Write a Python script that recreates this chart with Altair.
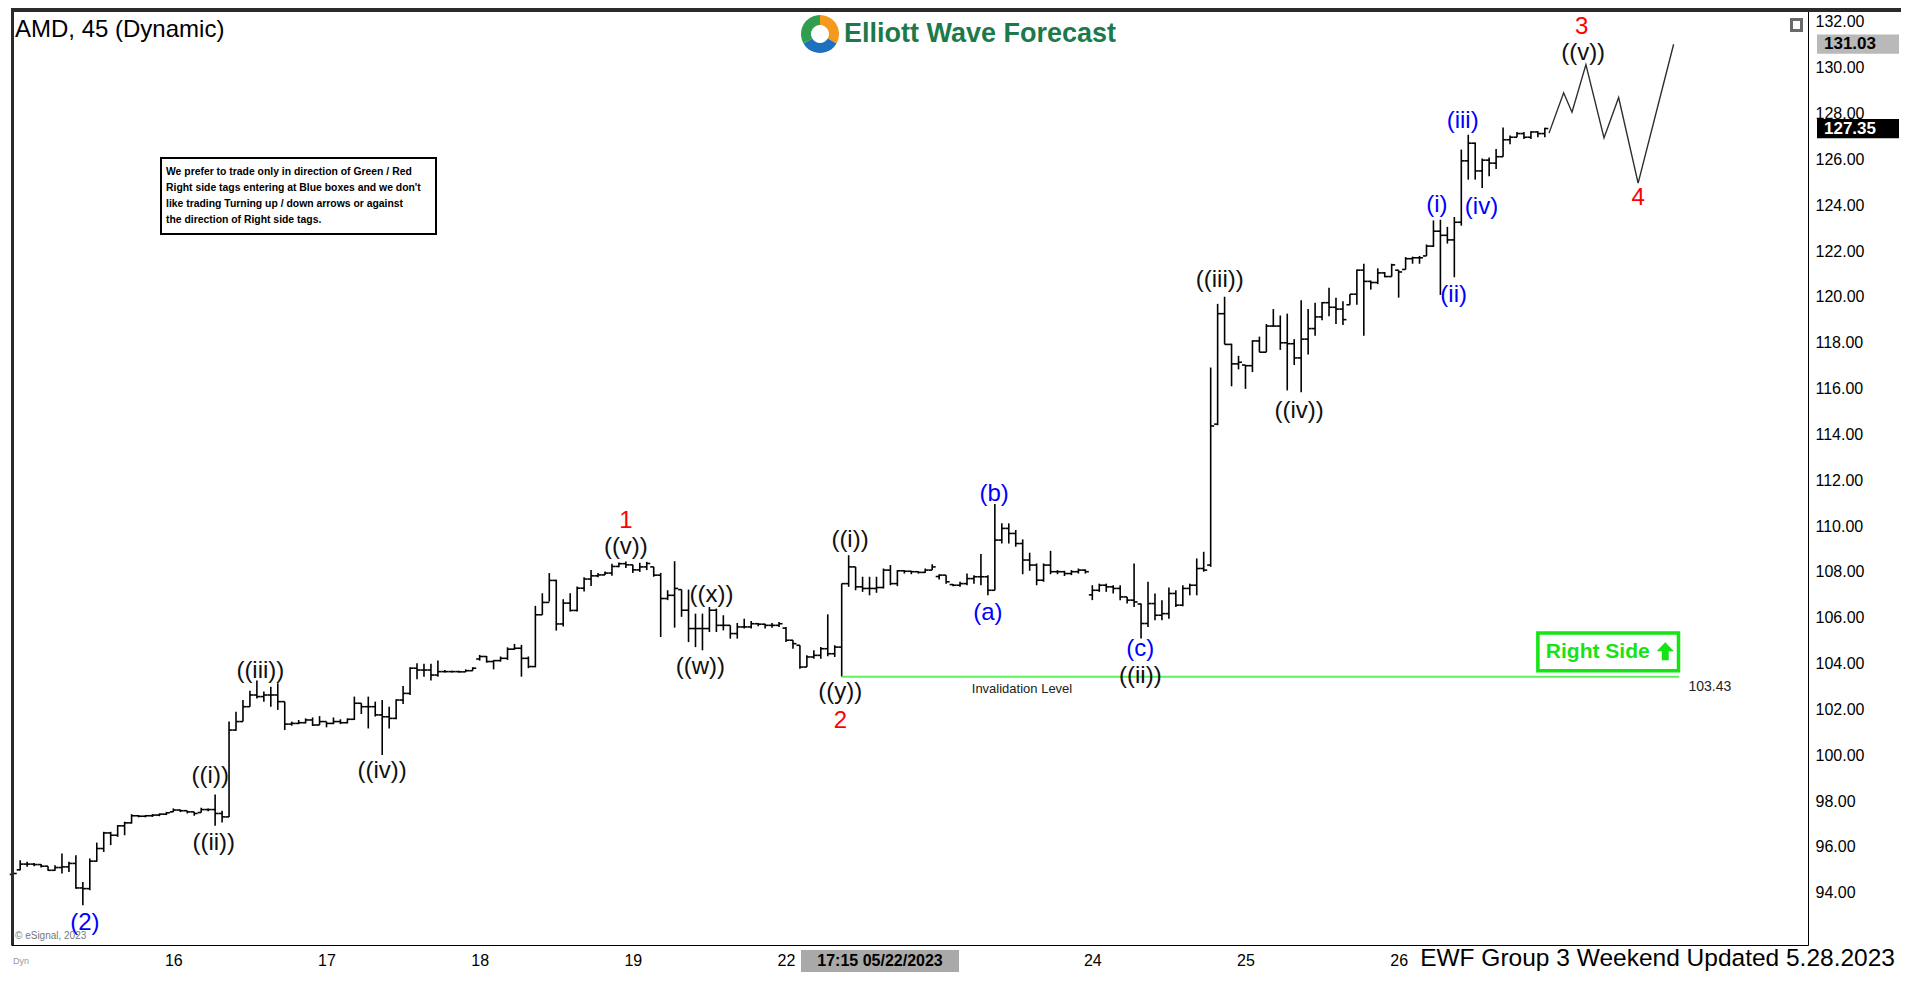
import altair as alt
import pandas as pd

FONT = "Liberation Sans"

# ---------------- OHLC (45 min bars) ----------------
highs = [94.91, 95.42, 95.35, 95.30, 95.25, 95.16, 95.20, 95.71, 95.35, 95.64,
         94.47, 95.49, 96.19, 96.66, 96.66, 96.95, 97.10, 97.43, 97.39, 97.39,
         97.43, 97.46, 97.53, 97.68, 97.63, 97.58, 97.53, 97.71, 97.68, 98.29,
         97.58, 101.47, 101.90, 102.41, 102.82, 103.26, 102.78, 102.99, 103.14, 102.34,
         101.47, 101.54, 101.61, 101.65, 101.71, 101.47, 101.65, 101.57, 101.61, 102.56,
         102.27, 102.56, 102.34, 102.41, 102.12, 102.44, 103.02, 103.84, 104.01, 103.99,
         103.99, 104.13, 103.72, 103.69, 103.69, 103.75, 103.84, 104.38, 104.33, 104.16,
         104.31, 104.71, 104.86, 104.82, 104.31, 106.52, 107.07, 107.95, 107.66, 106.81,
         107.07, 107.36, 107.77, 108.09, 107.95, 108.02, 108.36, 108.41, 108.46, 108.31,
         108.40, 108.44, 108.22, 107.96, 107.20, 108.47, 107.23, 107.23, 106.18, 106.18,
         106.47, 106.40, 106.11, 105.67, 105.77, 105.96, 105.86, 105.77, 105.74, 105.77,
         105.82, 105.60, 105.02, 104.80, 104.36, 104.58, 104.72, 106.15, 104.80, 107.49,
         108.73, 108.22, 107.79, 107.79, 107.79, 108.15, 108.30, 108.08, 108.08, 108.05,
         108.03, 108.15, 108.34, 107.90, 107.86, 107.47, 107.57, 107.93, 107.86, 108.78,
         107.86, 110.97, 110.12, 110.12, 109.83, 109.42, 108.84, 108.37, 108.37, 108.92,
         108.08, 108.05, 108.08, 108.15, 108.11, 107.42, 107.49, 107.49, 107.42, 107.42,
         106.91, 108.37, 106.62, 107.57, 107.06, 106.77, 107.32, 107.20, 107.42, 107.49,
         108.59, 108.88, 116.92, 119.70, 120.01, 117.96, 117.43, 117.03, 118.11, 118.27,
         118.82, 119.47, 119.19, 119.27, 118.16, 119.86, 119.47, 119.75, 119.78, 120.40,
         119.97, 119.81, 120.12, 121.20, 121.45, 120.71, 121.25, 121.09, 121.45, 121.17,
         121.74, 121.76, 121.79, 122.29, 123.34, 123.37, 123.06, 123.49, 126.43, 127.08,
         126.74, 126.04, 126.09, 126.46, 127.39, 127.05, 127.20, 127.20, 127.23, 127.23,
         127.38]

lows = [94.77, 94.98, 95.13, 95.16, 95.10, 94.96, 94.96, 94.84, 94.91, 94.18,
        93.45, 94.11, 95.35, 95.78, 96.08, 96.44, 96.51, 97.02, 97.29, 97.29,
        97.31, 97.34, 97.39, 97.53, 97.52, 97.46, 97.36, 97.50, 97.56, 96.92,
        97.07, 97.31, 101.07, 101.47, 102.12, 102.48, 102.34, 102.12, 101.98, 101.10,
        101.29, 101.36, 101.39, 101.28, 101.32, 101.22, 101.36, 101.36, 101.39, 101.54,
        101.80, 101.17, 101.69, 100.01, 101.17, 101.57, 102.24, 102.63, 103.32, 103.43,
        103.26, 103.43, 103.61, 103.61, 103.61, 103.64, 103.69, 104.13, 104.04, 103.75,
        104.09, 104.16, 104.60, 103.43, 103.80, 103.84, 106.13, 106.71, 105.44, 105.62,
        106.27, 106.27, 107.15, 107.39, 107.77, 107.87, 107.83, 108.21, 108.17, 107.95,
        108.00, 108.08, 107.79, 105.16, 106.77, 105.57, 106.04, 104.94, 104.72, 104.58,
        105.38, 105.38, 105.45, 105.09, 105.09, 105.53, 105.53, 105.63, 105.53, 105.57,
        105.60, 104.94, 104.65, 103.78, 103.85, 104.21, 104.21, 104.32, 104.29, 103.43,
        107.35, 107.20, 107.13, 106.98, 107.09, 107.28, 107.42, 107.38, 107.93, 107.90,
        107.93, 107.96, 108.08, 107.67, 107.49, 107.38, 107.35, 107.42, 107.49, 107.42,
        106.98, 107.20, 109.24, 109.24, 109.10, 107.90, 108.05, 107.42, 107.57, 107.90,
        107.90, 107.82, 107.86, 107.93, 107.93, 106.77, 107.13, 107.13, 107.06, 106.77,
        106.62, 106.47, 105.09, 105.60, 105.89, 105.89, 105.96, 106.47, 106.50, 106.98,
        106.98, 108.01, 108.22, 114.40, 117.93, 116.10, 116.84, 115.99, 116.72, 117.59,
        117.59, 118.70, 117.69, 115.92, 117.03, 115.84, 117.49, 118.31, 118.98, 119.16,
        118.82, 118.78, 119.66, 119.66, 118.31, 120.32, 120.56, 120.86, 120.89, 119.97,
        121.20, 121.45, 121.45, 121.79, 122.18, 120.09, 122.33, 120.86, 123.11, 125.12,
        125.12, 124.76, 125.27, 125.58, 126.12, 126.66, 126.97, 126.89, 126.89, 126.97,
        126.97]

opens = [94.80, 95.00, 95.25, 95.25, 95.23, 95.16, 94.98, 95.10, 95.13, 95.28,
         94.21, 94.18, 95.38, 95.93, 96.61, 96.51, 96.92, 97.05, 97.36, 97.34,
         97.36, 97.39, 97.43, 97.53, 97.61, 97.58, 97.53, 97.50, 97.63, 97.63,
         97.46, 97.31, 101.10, 101.47, 102.12, 102.63, 102.56, 102.63, 102.63, 102.34,
         101.36, 101.39, 101.42, 101.54, 101.32, 101.47, 101.39, 101.47, 101.42, 101.57,
         102.27, 102.12, 102.12, 101.76, 101.68, 101.61, 102.41, 102.70, 103.80, 103.72,
         103.72, 103.50, 103.65, 103.65, 103.65, 103.64, 103.69, 104.20, 104.31, 104.09,
         104.13, 104.23, 104.63, 104.67, 104.23, 103.87, 106.13, 106.67, 107.63, 105.73,
         106.64, 106.32, 107.29, 107.69, 107.83, 107.87, 107.95, 108.24, 108.36, 108.31,
         108.09, 108.22, 108.22, 107.86, 106.84, 106.98, 107.23, 106.33, 105.53, 105.53,
         105.53, 106.33, 105.67, 105.67, 105.31, 105.60, 105.60, 105.74, 105.72, 105.67,
         105.67, 105.55, 105.02, 104.80, 103.85, 104.29, 104.36, 104.65, 104.43, 104.72,
         107.49, 108.22, 107.35, 107.28, 107.28, 107.32, 108.08, 107.49, 108.05, 108.03,
         108.01, 107.98, 108.08, 107.80, 107.86, 107.45, 107.42, 107.49, 107.71, 107.79,
         107.79, 107.20, 109.39, 109.90, 109.68, 109.24, 108.52, 108.30, 107.64, 108.30,
         108.01, 108.01, 107.93, 108.01, 108.08, 107.00, 107.20, 107.42, 107.35, 107.28,
         106.91, 106.77, 106.60, 105.75, 106.62, 106.11, 106.18, 107.06, 106.55, 107.28,
         107.42, 108.15, 108.30, 114.45, 119.27, 117.93, 117.08, 117.03, 117.00, 118.08,
         117.59, 118.73, 118.73, 118.00, 117.96, 117.34, 118.16, 118.62, 119.13, 119.75,
         119.55, 119.47, 119.66, 120.12, 121.17, 120.68, 120.63, 121.05, 120.89, 121.17,
         121.20, 121.67, 121.71, 121.79, 122.22, 122.87, 122.69, 122.49, 123.26, 125.94,
         126.71, 125.50, 125.97, 125.84, 126.12, 126.86, 126.97, 127.13, 126.97, 127.20,
         127.13]

closes = [94.84, 95.25, 95.25, 95.23, 95.16, 94.98, 95.10, 95.13, 95.28, 94.21,
          94.18, 95.38, 95.93, 96.61, 96.51, 96.92, 97.05, 97.36, 97.34, 97.36,
          97.39, 97.43, 97.49, 97.61, 97.58, 97.53, 97.46, 97.63, 97.63, 97.46,
          97.31, 101.10, 101.47, 102.12, 102.63, 102.56, 102.63, 102.63, 102.34, 101.36,
          101.39, 101.42, 101.54, 101.32, 101.47, 101.39, 101.47, 101.42, 101.57, 102.27,
          102.12, 102.12, 101.76, 101.68, 101.61, 102.41, 102.70, 103.80, 103.72, 103.72,
          103.50, 103.65, 103.65, 103.65, 103.64, 103.69, 103.80, 104.31, 104.09, 104.13,
          104.23, 104.63, 104.67, 104.23, 103.87, 106.13, 106.67, 107.63, 105.73, 106.64,
          106.32, 107.29, 107.69, 107.83, 107.87, 107.95, 108.24, 108.36, 108.31, 108.09,
          108.22, 108.37, 107.86, 106.84, 106.98, 107.28, 106.33, 105.53, 105.53, 105.53,
          106.33, 105.67, 105.67, 105.31, 105.60, 105.60, 105.74, 105.72, 105.67, 105.67,
          105.74, 105.02, 104.87, 103.85, 104.29, 104.36, 104.65, 104.43, 104.72, 107.49,
          108.22, 107.35, 107.28, 107.28, 107.32, 108.08, 107.49, 108.05, 108.03, 108.01,
          107.98, 108.08, 108.22, 107.86, 107.57, 107.42, 107.49, 107.71, 107.79, 107.79,
          107.20, 109.39, 109.90, 109.68, 109.24, 108.52, 108.30, 107.64, 108.30, 108.01,
          108.01, 107.93, 108.01, 108.08, 108.01, 107.20, 107.42, 107.35, 107.28, 106.91,
          106.77, 106.69, 105.75, 106.62, 106.11, 106.18, 107.06, 106.55, 107.28, 107.42,
          108.15, 108.08, 114.37, 119.27, 117.93, 117.08, 117.15, 117.00, 118.08, 117.59,
          118.73, 118.73, 118.00, 117.96, 117.34, 118.16, 118.62, 119.13, 119.75, 119.55,
          119.47, 119.01, 120.12, 121.17, 120.68, 120.63, 121.05, 120.89, 121.40, 121.09,
          121.67, 121.71, 121.71, 122.22, 122.87, 122.69, 122.49, 123.26, 125.94, 126.71,
          125.50, 125.97, 125.84, 126.12, 126.86, 126.97, 127.13, 126.97, 127.20, 127.13,
          127.35]

# x axis (trading days) and y axis ticks
day_labels = ["16", "17", "18", "19", "22", "23", "24", "25", "26"]
day_ticks = [23, 45, 67, 89, 111, 133, 155, 177, 199]
price_ticks = [94, 96, 98, 100, 102, 104, 106, 108, 110, 112, 114, 116, 118, 120,
               122, 124, 126, 128, 130, 132]

# projected path
proj_idx = [220.6, 222.7, 223.9, 225.9, 228.5, 230.6, 233.4, 238.5]
proj_val = [127.15, 128.91, 128.06, 130.14, 126.94, 128.70, 124.97, 131.03]

# wave labels
wave_text = ["(2)", "((i))", "((ii))", "((iii))", "((iv))", "1", "((v))", "((w))", "((x))",
             "((i))", "((y))", "2", "(a)", "(b)", "(c)", "((ii))", "((iii))", "((iv))",
             "(i)", "(ii)", "(iii)", "(iv)", "3", "((v))", "4"]
wave_idx = [10.3, 28.3, 28.8, 35.5, 53.0, 88.0, 88.0, 98.7, 100.3,
            120.2, 118.8, 118.8, 140.0, 140.9, 161.9, 161.9, 173.3, 184.7,
            204.5, 206.9, 208.2, 210.9, 225.3, 225.5, 233.4]
wave_price = [92.67, 99.11, 96.18, 103.69, 99.32, 110.22, 109.08, 103.85, 106.99,
              109.38, 102.78, 101.50, 106.19, 111.40, 104.62, 103.48, 120.72, 115.02,
              124.02, 120.08, 127.69, 123.91, 131.78, 130.63, 124.34]
wave_kind = ["blue", "black", "black", "black", "black", "red", "black", "black", "black",
             "black", "black", "red", "blue", "blue", "blue", "black", "black", "black",
             "blue", "blue", "blue", "blue", "red", "black", "red"]

invalid_level = 103.43
invalid_from, invalid_to = 119.0, 239.3
last_price = 127.35
target_price = 131.03

# ---------------- layout ----------------
W, H = 1797, 937
xs = alt.Scale(domain=[-0.32, 257.8], nice=False, zero=False)
ys = alt.Scale(domain=[91.72, 132.61], nice=False, zero=False)

label_expr = ("[" + ",".join("'%s'" % d for d in day_labels) + "][indexof(["
              + ",".join(str(t) for t in day_ticks) + "], datum.value)]")
X_AX = alt.Axis(values=day_ticks, labelExpr=label_expr, title=None, grid=False, ticks=False,
                domainColor="black", domainWidth=1, labelFontSize=16, labelColor="black",
                labelFont=FONT, labelPadding=7, labelFlush=False)
Y_AX = alt.Axis(orient="right", values=price_ticks, format=".2f", title=None, grid=False,
                ticks=False, domainColor="black", domainWidth=1, labelFontSize=16,
                labelColor="black", labelFont=FONT, labelPadding=7)


def X(f):
    return alt.X(f, scale=xs, axis=X_AX)


def Y(f):
    return alt.Y(f, scale=ys, axis=Y_AX)


bars = pd.DataFrame({"idx": list(range(len(highs))), "open": opens, "high": highs,
                     "low": lows, "close": closes})
base = alt.Chart(bars)
hl = base.mark_rule(color="black", strokeWidth=1.6).encode(x=X("idx:Q"), y=Y("low:Q"), y2="high:Q")
op = base.transform_calculate(xo="datum.idx - 0.5").mark_rule(color="black", strokeWidth=1.6).encode(
    x=X("xo:Q"), x2="idx:Q", y=Y("open:Q"))
cl = base.transform_calculate(xc="datum.idx + 0.5").mark_rule(color="black", strokeWidth=1.6).encode(
    x=X("idx:Q"), x2="xc:Q", y=Y("close:Q"))

proj = alt.Chart(pd.DataFrame({"idx": proj_idx, "val": proj_val})).mark_line(
    color="#2e2e2e", strokeWidth=1.4).encode(x=X("idx:Q"), y=Y("val:Q"))

inval = alt.Chart(pd.DataFrame({"a": [invalid_from], "b": [invalid_to], "v": [invalid_level]})).mark_rule(
    color="#5cf05c", strokeWidth=2).encode(x=X("a:Q"), x2="b:Q", y=Y("v:Q"))

colmap = {"black": "#111111", "blue": "#0000ff", "red": "#ff0000"}
waves = pd.DataFrame({"t": wave_text, "idx": wave_idx, "p": wave_price,
                      "c": [colmap[k] for k in wave_kind],
                      "fs": [24 for k in wave_kind]})
wave_layer = alt.Chart(waves).mark_text(font=FONT, baseline="middle", align="center").encode(
    x=X("idx:Q"), y=Y("p:Q"), text="t:N", color=alt.Color("c:N", scale=None),
    size=alt.Size("fs:Q", scale=None))

small_txt = alt.Chart(pd.DataFrame({"t": ["Invalidation Level", "%.2f" % invalid_level],
                                    "idx": [144.9, 243.7], "p": [102.89, 102.99],
                                    "fs": [13, 14]})).mark_text(
    font=FONT, baseline="middle", align="center", color="#222222").encode(
    x=X("idx:Q"), y=Y("p:Q"), text="t:N", size=alt.Size("fs:Q", scale=None))

# Right Side tag
rs_box = alt.Chart(pd.DataFrame({"a": [219.0], "b": [239.2], "p1": [105.34], "p2": [103.69]})).mark_rect(
    fillOpacity=0, stroke="#14e314", strokeWidth=3.5).encode(x=X("a:Q"), x2="b:Q", y=Y("p1:Q"), y2="p2:Q")
rs_txt = alt.Chart(pd.DataFrame({"t": ["Right Side"], "idx": [227.6], "p": [104.51]})).mark_text(
    font=FONT, fontWeight="bold", fontSize=21, color="#14e314", align="center", baseline="middle").encode(
    x=X("idx:Q"), y=Y("p:Q"), text="t:N")
rs_arrow = alt.Chart(pd.DataFrame({"idx": [237.3], "p": [104.54]})).mark_point(
    shape="M0,-1L0.95,0L0.38,0L0.38,1L-0.38,1L-0.38,0L-0.95,0Z", filled=True, color="#14e314",
    opacity=1, size=330).encode(x=X("idx:Q"), y=Y("p:Q"))

# price tags on right axis
tags = pd.DataFrame({"p": [target_price, last_price], "t": ["%.2f" % target_price, "%.2f" % last_price],
                     "bg": ["#b9b9b9", "#000000"], "fg": ["#000000", "#ffffff"]})
tag_rect = alt.Chart(tags).transform_calculate(p1="datum.p + 0.42", p2="datum.p - 0.42").mark_rect().encode(
    x=alt.value(1806), x2=alt.value(1888), y=Y("p1:Q"), y2="p2:Q", color=alt.Color("bg:N", scale=None))
tag_txt = alt.Chart(tags).mark_text(font=FONT, fontWeight="bold", fontSize=17, align="left",
                                    baseline="middle").encode(
    x=alt.value(1813), y=Y("p:Q"), text="t:N", color=alt.Color("fg:N", scale=None))

ONE = pd.DataFrame({"a": [0]})


def box(x1, x2, y1, y2, **kw):
    return alt.Chart(ONE).mark_rect(**kw).encode(x=alt.value(x1), x2=alt.value(x2),
                                                 y=alt.value(y1), y2=alt.value(y2))


def label(t, x, y, size, color="black", weight="normal", align="left"):
    return alt.Chart(pd.DataFrame({"t": [t]})).mark_text(
        font=FONT, fontSize=size, fontWeight=weight, color=color, align=align,
        baseline="middle").encode(text="t:N", x=alt.value(x), y=alt.value(y))


frame = [box(0, 1890, 0, 4, color="#2b2b2b"), box(0, 3, 0, H, color="#2b2b2b"),
         box(1779, 1792, 10, 24, color="#6a6a6a"), box(1782, 1789, 13, 21, color="#ffffff")]

info_lines = ["We prefer to trade only in direction of Green / Red",
              "Right side tags entering at Blue boxes and we don't",
              "like trading Turning up / down arrows or against",
              "the direction of Right side tags."]
info = [box(150, 425, 150, 226, fill="white", stroke="black", strokeWidth=2)]
for k, line in enumerate(info_lines):
    info.append(label(line, 155, 164 + 16 * k, 10.4, weight="bold"))

logo_arc = alt.Chart(pd.DataFrame({"v": [1, 1, 1], "c": ["#f39a1e", "#1f6fbf", "#2f9e4e"],
                                   "o": [0, 1, 2]})).mark_arc(innerRadius=9, outerRadius=19).encode(
    theta=alt.Theta("v:Q", stack=True), order="o:Q", color=alt.Color("c:N", scale=None),
    x=alt.value(809), y=alt.value(26))

texts = [
    label("AMD, 45 (Dynamic)", 4, 22, 24),
    label("Elliott Wave Forecast", 833, 26, 27, color="#1c7a4a", weight="bold"),
    label("© eSignal, 2023", 4, 928, 10, color="#777777"),
    label("Dyn", 2, 953, 9, color="#999999"),
    box(790, 948, 942, 964, color="#a9a9a9"),
    label("17:15 05/22/2023", 869, 953, 16, weight="bold", align="center"),
    label("EWF Group 3 Weekend Updated 5.28.2023", 1884, 951, 24.5, align="right"),
]

chart = alt.layer(
    hl, op, cl, inval, proj, wave_layer, small_txt, rs_box, rs_txt, rs_arrow,
    tag_rect, tag_txt, *frame, *info, logo_arc, *texts
).properties(width=W, height=H, padding=0, background="white").configure_view(stroke=None)

chart.save("out.html", embed_options={"renderer": "svg", "actions": False})
